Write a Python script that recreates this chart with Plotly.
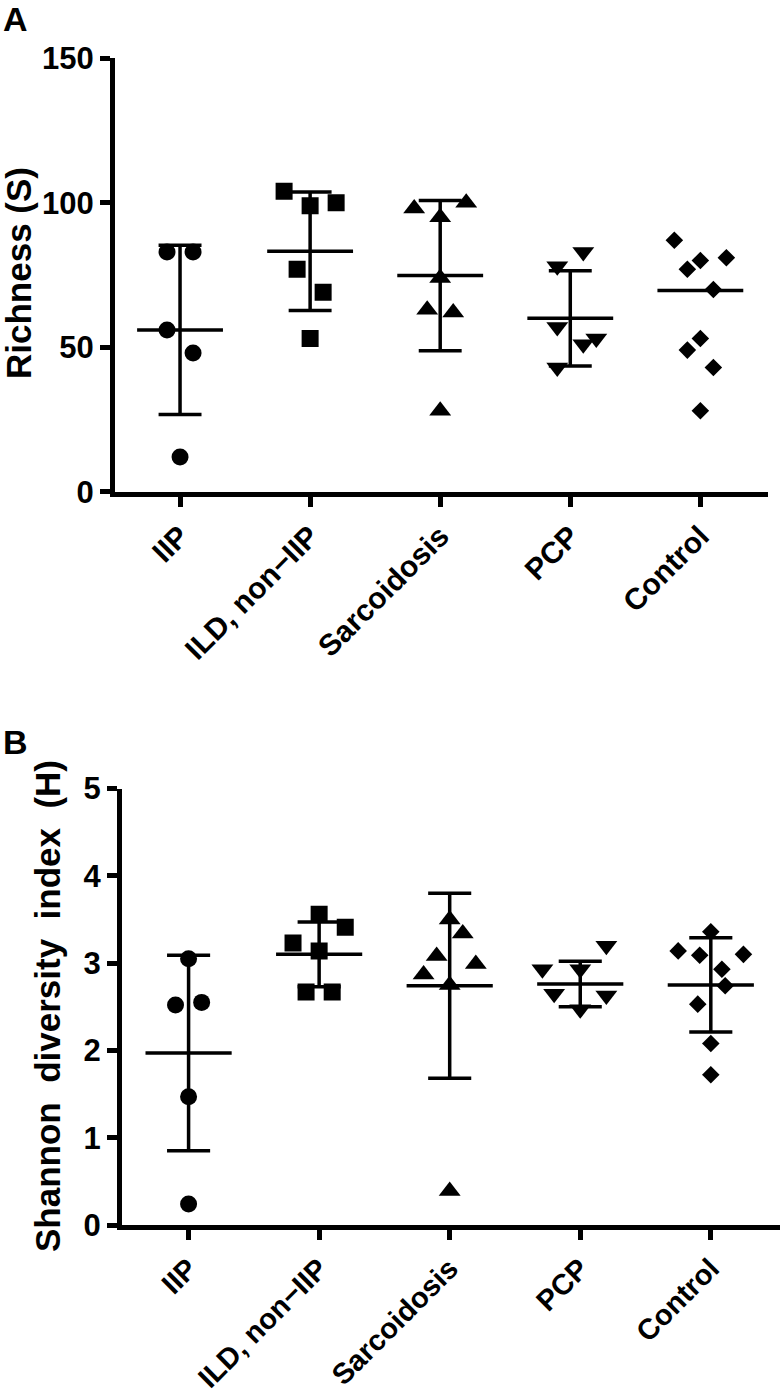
import plotly.graph_objects as go

# ============================================================
# Data
# ============================================================

categories = ["IIP", "ILD, non\u2212IIP", "Sarcoidosis", "PCP", "Control"]

# Panel A - Richness (S)
richness_iip = [83, 83, 56, 48, 12]
richness_ild = [104, 99, 100, 77, 69, 53]
richness_sarc = [98, 100, 95, 74, 63, 62, 28]
richness_pcp = [83, 78, 57, 51, 53, 43]
richness_control = [87, 80, 77, 81, 70, 53, 49, 43, 28]
richness_mean = [56, 83.2, 74.8, 60, 69.6]
richness_sd = [29.3, 20.5, 26, 16.5, None]

# Panel B - Shannon diversity index (H)
shannon_iip = [3.05, 2.52, 2.55, 1.47, 0.24]
shannon_ild = [3.56, 3.41, 3.23, 3.14, 2.67, 2.67]
shannon_sarc = [3.50, 3.34, 3.08, 2.87, 2.99, 2.75, 0.39]
shannon_pcp = [3.20, 2.93, 2.93, 2.65, 2.63, 2.47]
shannon_control = [3.36, 3.14, 3.09, 3.10, 2.93, 2.74, 2.53, 2.08, 1.72]
shannon_mean = [1.97, 3.10, 2.74, 2.76, 2.75]
shannon_sd = [1.12, 0.37, 1.06, 0.26, 0.54]

# ============================================================
# Point spread (horizontal scatter, category units)
# ============================================================

spread_a = [
    [-0.1, 0.1, -0.1, 0.1, 0],
    [-0.2, 0, 0.2, -0.1, 0.1, 0],
    [-0.2, 0.2, 0, 0, -0.1, 0.1, 0],
    [0.1, -0.1, -0.1, 0.1, 0.2, -0.1],
    [-0.2, 0, -0.1, 0.2, 0.1, 0, -0.1, 0.1, 0],
]
spread_b = [
    [0, -0.1, 0.1, 0, 0],
    [0, 0.2, -0.2, 0, -0.1, 0.1],
    [0, 0.1, -0.1, -0.2, 0.2, 0, 0],
    [0.2, -0.29, 0, -0.2, 0.2, 0],
    [0, -0.25, -0.085, 0.25, 0.085, 0.11, -0.1, 0, 0],
]

symbols = ["circle", "square", "triangle-up", "triangle-down", "diamond"]
sizes = [17, 17, 19, 19, 13.5]

FONT = "Liberation Sans, Arial, sans-serif"
W, H = 780, 1395


def px(p):
    """Page x pixel -> paper fraction."""
    return p / W


def py(p):
    """Page y pixel -> paper fraction."""
    return 1 - p / H


def add_panel(fig, groups, means, sds, spread, xref, yref):
    # points
    for i, vals in enumerate(groups):
        fig.add_trace(go.Scatter(
            x=[i + d for d in spread[i]],
            y=vals,
            mode="markers",
            marker=dict(symbol=symbols[i], size=sizes[i], color="black",
                        line=dict(width=0)),
            xaxis=xref, yaxis=yref,
            showlegend=False,
        ))

    # mean lines and SD whiskers
    lx, ly = [], []
    for i, (m, s) in enumerate(zip(means, sds)):
        lx += [i - 0.33, i + 0.33, None]
        ly += [m, m, None]
        if s is not None:
            lx += [i, i, None, i - 0.165, i + 0.165, None,
                   i - 0.165, i + 0.165, None]
            ly += [m - s, m + s, None, m + s, m + s, None,
                   m - s, m - s, None]
    fig.add_trace(go.Scatter(
        x=lx, y=ly, mode="lines",
        line=dict(color="black", width=3.5),
        xaxis=xref, yaxis=yref, showlegend=False,
    ))


fig = go.Figure()

add_panel(fig,
          [richness_iip, richness_ild, richness_sarc, richness_pcp,
           richness_control],
          richness_mean, richness_sd, spread_a, "x", "y")
add_panel(fig,
          [shannon_iip, shannon_ild, shannon_sarc, shannon_pcp,
           shannon_control],
          shannon_mean, shannon_sd, spread_b, "x2", "y2")


def xlabel_font(size):
    return dict(family=FONT, size=size, color="black", weight="bold")


common_x = dict(
    tickvals=list(range(len(categories))),
    ticktext=categories,
    tickangle=-45,
    ticks="outside", ticklen=10, tickwidth=5, tickcolor="black",
    showline=True, linewidth=5, linecolor="black",
    showgrid=False, zeroline=False, automargin=False,
)
common_y = dict(
    ticks="outside", ticklen=10, tickwidth=5, tickcolor="black",
    showline=True, linewidth=5, linecolor="black",
    showgrid=False, zeroline=False, automargin=False,
    tickfont=dict(family=FONT, size=31, color="black", weight="bold"),
)

fig.update_layout(
    width=W, height=H,
    margin=dict(l=0, r=0, t=0, b=0, autoexpand=False),
    plot_bgcolor="white", paper_bgcolor="white",
    xaxis=dict(domain=[px(115), px(768)], range=[-0.5, 4.52],
               anchor="y", tickfont=xlabel_font(30), **common_x),
    yaxis=dict(domain=[py(491.7), py(58.3)], range=[0, 150],
               tickvals=[0, 50, 100, 150], anchor="x", **common_y),
    xaxis2=dict(domain=[px(122), 1.0], range=[-0.51, 4.53],
                anchor="y2", tickfont=xlabel_font(29), **common_x),
    yaxis2=dict(domain=[py(1225), py(788.5)], range=[0, 5],
                tickvals=[0, 1, 2, 3, 4, 5], anchor="x2", **common_y),
)

# ------------------------------------------------------------
# Axis titles and panel letters
# ------------------------------------------------------------

fig.add_annotation(text="Richness (S)", textangle=-90,
                   x=px(18), y=py(273), xref="paper", yref="paper",
                   xanchor="center", yanchor="middle", showarrow=False,
                   font=dict(family=FONT, size=35, color="black",
                             weight="bold"))
fig.add_annotation(text="Shannon  diversity  index  (H)", textangle=-90,
                   x=px(47), y=py(1006), xref="paper", yref="paper",
                   xanchor="center", yanchor="middle", showarrow=False,
                   font=dict(family=FONT, size=35, color="black",
                             weight="bold"))

letter_font = dict(family=FONT, size=34, color="black", weight="bold")
fig.add_annotation(text="A", x=px(1), y=py(19),
                   xref="paper", yref="paper",
                   xanchor="left", yanchor="middle",
                   showarrow=False, font=letter_font)
fig.add_annotation(text="B", x=px(1), y=py(742),
                   xref="paper", yref="paper",
                   xanchor="left", yanchor="middle",
                   showarrow=False, font=letter_font)

# drop the default page margin so the figure sits at the window origin
fig.write_html("out.html", config={"displayModeBar": False},
               post_script="document.body.style.margin = '0';")
